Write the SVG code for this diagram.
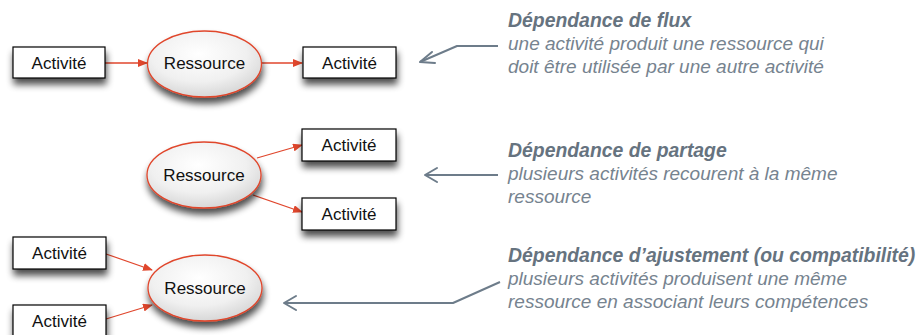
<svg xmlns="http://www.w3.org/2000/svg" width="917" height="335" viewBox="0 0 917 335">
<defs>
<style>
.box{fill:#fff;stroke:#000;stroke-width:1.2}
.res{fill:url(#eg);stroke:#e0462c;stroke-width:1.3}
.lbl{font-family:"Liberation Sans",Arial,sans-serif;font-size:17px;fill:#111;text-anchor:middle}
.flow{stroke:#e0462c;stroke-width:1.3;fill:none;marker-end:url(#ra)}
.call{stroke:#6d7c8a;stroke-width:2;fill:none;stroke-linejoin:round}
.head{stroke:#6d7c8a;stroke-width:2;fill:none;stroke-linecap:round;stroke-linejoin:round}
.t{font-family:"Liberation Sans",Arial,sans-serif;font-size:19px;font-style:italic;fill:#76838f}
.tb{font-weight:bold;font-size:19.4px;fill:#66737f}
</style>
<radialGradient id="eg" cx="0.45" cy="0.35" r="0.7">
<stop offset="0" stop-color="#ffffff"/>
<stop offset="0.6" stop-color="#f0f0f0"/>
<stop offset="1" stop-color="#d2d2d2"/>
</radialGradient>
<filter id="sh" x="-30%" y="-30%" width="160%" height="180%">
<feGaussianBlur in="SourceAlpha" stdDeviation="3.5"/>
<feOffset dx="1" dy="6" result="b"/>
<feComponentTransfer><feFuncA type="linear" slope="0.7"/></feComponentTransfer>
<feMerge><feMergeNode/><feMergeNode in="SourceGraphic"/></feMerge>
</filter>
<marker id="ra" markerWidth="10" markerHeight="8" refX="9" refY="4" orient="auto" markerUnits="userSpaceOnUse">
<path d="M0,0 L10,4 L0,8 Z" fill="#e0462c"/>
</marker>
</defs>
<rect width="917" height="335" fill="#fff"/>

<g id="connectors">
<line class="flow" x1="105" y1="63" x2="147" y2="63"/>
<line class="flow" x1="262" y1="63" x2="302" y2="63"/>
<line class="flow" x1="257" y1="158" x2="302" y2="145"/>
<line class="flow" x1="253" y1="195" x2="302" y2="212"/>
<line class="flow" x1="106" y1="254" x2="152" y2="270"/>
<line class="flow" x1="106" y1="319" x2="152" y2="305"/>
<polyline class="call" points="498,46 457,46 420,62"/>
<path class="head" d="M432,52 L420,62 L435,63"/>
<line class="call" x1="498" y1="175" x2="425" y2="175"/>
<path class="head" d="M437,168 L425,175 L437,182"/>
<polyline class="call" points="500,282 453,303 284,303"/>
<path class="head" d="M296,296 L284,303 L296,310"/>
</g>

<g id="n1" filter="url(#sh)"><rect class="box" x="13" y="47" width="92" height="31"/></g>
<text class="lbl" x="59" y="69">Activité</text>
<g id="n2" filter="url(#sh)"><ellipse class="res" cx="204.5" cy="64" rx="57" ry="33"/></g>
<text class="lbl" x="204.5" y="69">Ressource</text>
<g id="n3" filter="url(#sh)"><rect class="box" x="303" y="47" width="93" height="31"/></g>
<text class="lbl" x="349.5" y="69">Activité</text>

<g id="n4" filter="url(#sh)"><ellipse class="res" cx="204" cy="175" rx="57" ry="33"/></g>
<text class="lbl" x="204" y="181">Ressource</text>
<g id="n5" filter="url(#sh)"><rect class="box" x="302" y="129" width="94" height="32"/></g>
<text class="lbl" x="349" y="151">Activité</text>
<g id="n6" filter="url(#sh)"><rect class="box" x="302" y="198" width="94" height="32"/></g>
<text class="lbl" x="349" y="220">Activité</text>

<g id="n7" filter="url(#sh)"><rect class="box" x="13" y="237" width="93" height="32"/></g>
<text class="lbl" x="59.5" y="259">Activité</text>
<g id="n8" filter="url(#sh)"><ellipse class="res" cx="205" cy="288" rx="57" ry="33"/></g>
<text class="lbl" x="205" y="294">Ressource</text>
<g id="n9" filter="url(#sh)"><rect class="box" x="13" y="305" width="93" height="34"/></g>
<text class="lbl" x="59.5" y="327">Activité</text>

<g id="note1">
<text class="t tb" x="508" y="27">Dépendance de flux</text>
<text class="t" x="508" y="50">une activité produit une ressource qui</text>
<text class="t" x="508" y="73">doit être utilisée par une autre activité</text>
</g>
<g id="note2">
<text class="t tb" x="508" y="157">Dépendance de partage</text>
<text class="t" x="508" y="180">plusieurs activités recourent à la même</text>
<text class="t" x="508" y="203">ressource</text>
</g>
<g id="note3">
<text class="t tb" x="508" y="262">Dépendance d’ajustement (ou compatibilité)</text>
<text class="t" x="508" y="285">plusieurs activités produisent une même</text>
<text class="t" x="508" y="308">ressource en associant leurs compétences</text>
</g>
</svg>
